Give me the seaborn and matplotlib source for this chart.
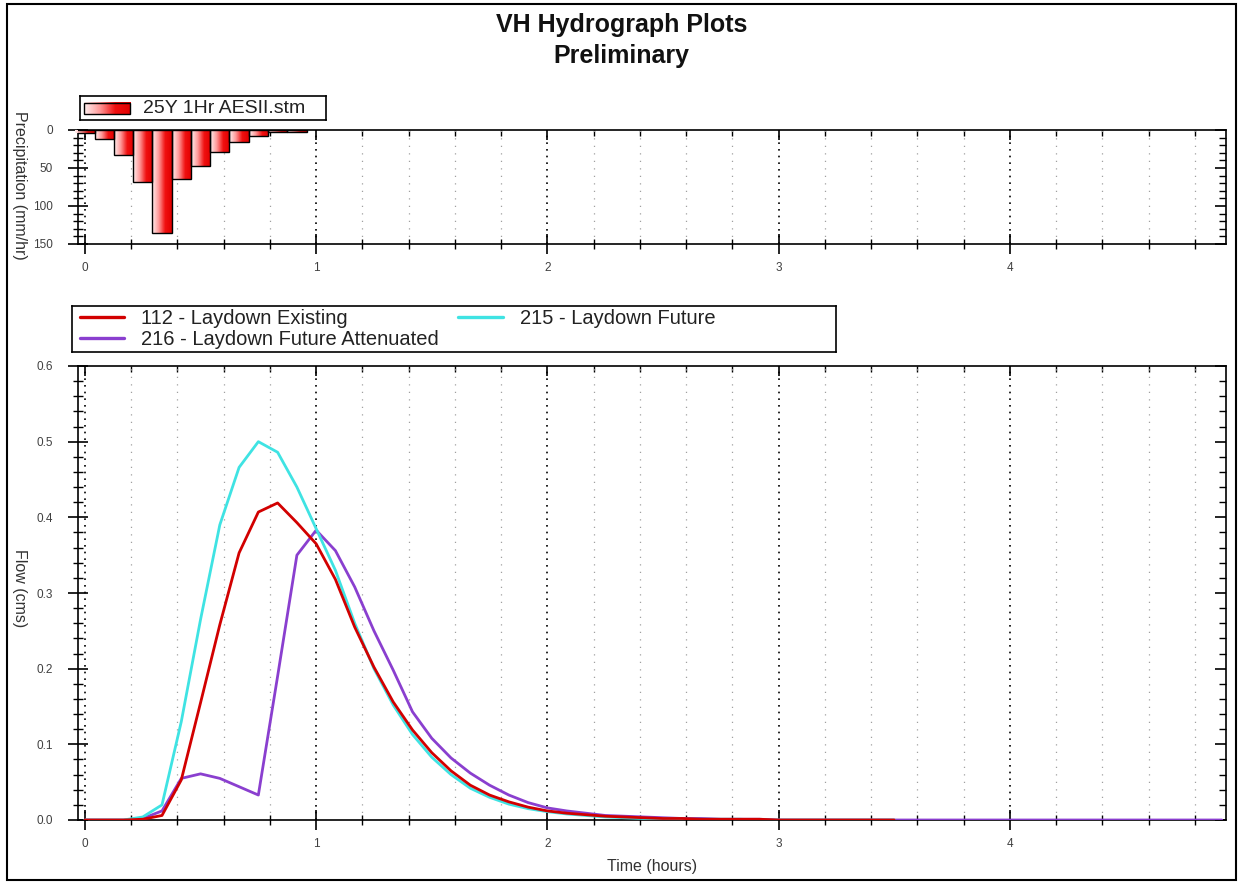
import numpy as np
import matplotlib
matplotlib.use("Agg")
import matplotlib.pyplot as plt
import seaborn as sns
from matplotlib.colors import LinearSegmentedColormap
from matplotlib.patches import Rectangle
from matplotlib.lines import Line2D
from matplotlib.ticker import MultipleLocator, NullFormatter

sns.set_theme(style="white")
plt.rcParams['font.family'] = ['Liberation Sans', 'DejaVu Sans']

# ---------------- data ----------------
# rainfall hyetograph (5-minute blocks, hours)
rain_time = [0.0, 0.0833, 0.1667, 0.25, 0.3333, 0.4167, 0.5, 0.5833, 0.6667, 0.75, 0.8333, 0.9167]
rain_mmhr = [3.5, 12, 33, 68, 135, 64, 47, 29, 16, 8, 3, 3]
rain_label = "25Y 1Hr AESII.stm"

# hydrograph time steps (hours)
time_long = [0.0, 0.0833, 0.1667, 0.25, 0.3333, 0.4167, 0.5, 0.5833, 0.6667, 0.75,
             0.8333, 0.9167, 1.0, 1.0833, 1.1667, 1.25, 1.3333, 1.4167, 1.5, 1.5833,
             1.6667, 1.75, 1.8333, 1.9167, 2.0, 2.0833, 2.1667, 2.25, 2.3333, 2.4167,
             2.5, 2.5833, 2.6667, 2.75, 2.8333, 2.9167, 3.0, 3.0833, 3.1667, 3.25,
             3.3333, 3.4167, 3.5, 3.5833, 3.6667, 3.75, 3.8333, 3.9167, 4.0, 4.0833,
             4.1667, 4.25, 4.3333, 4.4167, 4.5, 4.5833, 4.6667, 4.75, 4.8333, 4.9167]
time_short = time_long[:43]

flow_112 = [0.0, 0.0, 0.0, 0.001, 0.006, 0.053, 0.155, 0.258, 0.353, 0.407,
            0.419, 0.393, 0.365, 0.318, 0.255, 0.202, 0.156, 0.119, 0.089, 0.065,
            0.046, 0.033, 0.024, 0.017, 0.012, 0.009, 0.007, 0.005, 0.004, 0.003,
            0.002, 0.002, 0.001, 0.001, 0.001, 0.001, 0.0, 0.0, 0.0, 0.0,
            0.0, 0.0, 0.0]
flow_215 = [0.0, 0.0, 0.0, 0.004, 0.02, 0.13, 0.265, 0.39, 0.466, 0.5,
            0.486, 0.44, 0.385, 0.33, 0.26, 0.2, 0.152, 0.113, 0.083, 0.06,
            0.042, 0.03, 0.021, 0.015, 0.011, 0.008, 0.006, 0.004, 0.003, 0.002,
            0.002, 0.001, 0.001, 0.001, 0.001, 0.0, 0.0, 0.0, 0.0, 0.0,
            0.0, 0.0, 0.0]
flow_216 = [0.0, 0.0, 0.0, 0.002, 0.012, 0.055, 0.061, 0.055, 0.044, 0.033,
            0.19, 0.35, 0.383, 0.356, 0.308, 0.25, 0.198, 0.143, 0.108, 0.082,
            0.062, 0.046, 0.033, 0.023, 0.016, 0.012, 0.009, 0.006, 0.005, 0.004,
            0.003, 0.002, 0.002, 0.001, 0.001, 0.001, 0.0, 0.0, 0.0, 0.0,
            0.0, 0.0, 0.0, 0.0, 0.0, 0.0, 0.0, 0.0, 0.0, 0.0,
            0.0, 0.0, 0.0, 0.0, 0.0, 0.0, 0.0, 0.0, 0.0, 0.0]

labels = ["112 - Laydown Existing", "215 - Laydown Future", "216 - Laydown Future Attenuated"]
colors = ["#d20000", "#3fe3e3", "#8a3fcf"]

# ---------------- figure ----------------
W, H = 1238, 884
fig = plt.figure(figsize=(W / 100, H / 100), dpi=100)
fig.patch.set_facecolor("white")

def fx(px):
    return px / W

def fy(py):
    return 1 - py / H

# outer border
fig.patches.append(Rectangle((fx(7), fy(880)), fx(1236) - fx(7), fy(4) - fy(880),
                             transform=fig.transFigure, fill=False, edgecolor="black",
                             linewidth=1.5, zorder=0))

fig.text(0.502, fy(32), "VH Hydrograph Plots", ha="center", va="baseline",
         fontsize=18, fontweight="bold", color="#111111")
fig.text(0.502, fy(63), "Preliminary", ha="center", va="baseline",
         fontsize=18, fontweight="bold", color="#111111")

left, right = 78, 1226
ax_top = fig.add_axes([fx(left), fy(244), fx(right) - fx(left), fy(130) - fy(244)])
ax_bot = fig.add_axes([fx(left), fy(820), fx(right) - fx(left), fy(366) - fy(820)])

XMIN, XMAX = -0.03, 4.935
TICK_COLOR = "#404040"

def style_axis(ax, ymajor, yminor):
    ax.set_facecolor("white")
    for s in ax.spines.values():
        s.set_visible(True)
        s.set_color("black")
        s.set_linewidth(1.2)
    ax.xaxis.set_major_locator(MultipleLocator(1))
    ax.xaxis.set_minor_locator(MultipleLocator(0.2))
    ax.yaxis.set_major_locator(MultipleLocator(ymajor))
    ax.yaxis.set_minor_locator(MultipleLocator(yminor))
    ax.tick_params(which="major", direction="inout", length=14, width=1.2, color="black",
                   top=False, right=False, bottom=True, left=True,
                   labelsize=8.5, labelcolor=TICK_COLOR)
    ax.tick_params(which="minor", direction="inout", length=7, width=1.0, color="black",
                   top=False, right=False, bottom=True, left=True)
    ax.tick_params(axis="y", which="major", pad=11)
    ax.tick_params(axis="x", which="major", pad=6)
    ax.grid(False)
    ax.xaxis.grid(True, which="major", color="black", linestyle=(0, (1, 3)), linewidth=1.2)
    ax.xaxis.grid(True, which="minor", color="#a0a0a0", linestyle=(0, (1, 5)), linewidth=0.9)
    ax.set_axisbelow(True)
    # inward ticks on top and right
    sx = ax.secondary_xaxis("top")
    sx.xaxis.set_major_locator(MultipleLocator(1))
    sx.xaxis.set_minor_locator(MultipleLocator(0.2))
    sx.tick_params(which="major", direction="in", length=7, width=1.2, color="black", labeltop=False)
    sx.tick_params(which="minor", direction="in", length=4, width=1.0, color="black")
    sx.xaxis.set_major_formatter(NullFormatter())
    sx.spines["top"].set_visible(False)
    sy = ax.secondary_yaxis("right")
    sy.yaxis.set_major_locator(MultipleLocator(ymajor))
    sy.yaxis.set_minor_locator(MultipleLocator(yminor))
    sy.tick_params(which="major", direction="in", length=8, width=1.2, color="black", labelright=False)
    sy.tick_params(which="minor", direction="in", length=5, width=1.0, color="black")
    sy.yaxis.set_major_formatter(NullFormatter())
    sy.spines["right"].set_visible(False)

# ---------------- precipitation panel ----------------
sns.barplot(x=rain_time, y=rain_mmhr, native_scale=True, width=1.0,
            color="#ff6060", edgecolor="black", linewidth=1.0, ax=ax_top, zorder=3)
cmap = LinearSegmentedColormap.from_list("pinkred", ["#fff0f0", "#ff9a9a", "#f01010", "#e00000"])
grad = np.linspace(0, 1, 64).reshape(1, -1)
for patch in list(ax_top.patches):
    x0, y0 = patch.get_x(), patch.get_y()
    w, h = patch.get_width(), patch.get_height()
    im = ax_top.imshow(grad, extent=[x0, x0 + w, y0, y0 + h], aspect="auto",
                       cmap=cmap, zorder=2.9, interpolation="bilinear")
    im.set_clip_path(patch)
    patch.set_facecolor("none")
ax_top.set_xlim(XMIN, XMAX)
ax_top.set_ylim(150, 0)
style_axis(ax_top, 50, 10)
ax_top.set_xticks([0, 1, 2, 3, 4])
ax_top.set_xticklabels(["0", "1", "2", "3", "4"])
ax_top.set_xlabel("")
ax_top.set_ylabel("")
fig.text(fx(19), fy(185), "Precipitation (mm/hr)", rotation=-90, ha="center", va="center",
         fontsize=11.5, color="#333333")

# top legend box
lax1 = fig.add_axes([fx(80), fy(120), fx(326) - fx(80), fy(96) - fy(120)])
lax1.set_xticks([])
lax1.set_yticks([])
for s in lax1.spines.values():
    s.set_visible(True)
    s.set_color("black")
    s.set_linewidth(1.2)
lax1.imshow(grad, extent=[0.015, 0.205, 0.25, 0.72], aspect="auto", cmap=cmap, zorder=2)
lax1.add_patch(Rectangle((0.015, 0.25), 0.19, 0.47, fill=False, edgecolor="black", linewidth=1, zorder=3))
lax1.set_xlim(0, 1)
lax1.set_ylim(0, 1)
lax1.text(0.255, 0.47, rain_label, ha="left", va="center", fontsize=14, color="#222222")

# ---------------- flow panel ----------------
sns.lineplot(x=time_long, y=flow_216, color=colors[2], linewidth=2.0, ax=ax_bot, zorder=3)
sns.lineplot(x=time_short, y=flow_215, color=colors[1], linewidth=2.0, ax=ax_bot, zorder=4)
sns.lineplot(x=time_short, y=flow_112, color=colors[0], linewidth=2.0, ax=ax_bot, zorder=5)
ax_bot.set_xlim(XMIN, XMAX)
ax_bot.set_ylim(0, 0.6)
style_axis(ax_bot, 0.1, 0.02)
ax_bot.set_yticks([0, 0.1, 0.2, 0.3, 0.4, 0.5, 0.6])
ax_bot.set_yticklabels(["0.0", "0.1", "0.2", "0.3", "0.4", "0.5", "0.6"])
ax_bot.set_xticks([0, 1, 2, 3, 4])
ax_bot.set_xticklabels(["0", "1", "2", "3", "4"])
ax_bot.set_xlabel("")
ax_bot.set_ylabel("")
fig.text(fx(19), fy(588), "Flow (cms)", rotation=-90, ha="center", va="center",
         fontsize=11.5, color="#333333")
fig.text(fx(652), fy(867), "Time (hours)", ha="center", va="center",
         fontsize=11.5, color="#333333")

# lower legend box
lax2 = fig.add_axes([fx(72), fy(352), fx(836) - fx(72), fy(306) - fy(352)])
lax2.set_xticks([])
lax2.set_yticks([])
lax2.set_facecolor("white")
for s in lax2.spines.values():
    s.set_visible(True)
    s.set_color("black")
    s.set_linewidth(1.2)
handles = [Line2D([], [], color=colors[0], linewidth=2.4),
           Line2D([], [], color=colors[2], linewidth=2.4),
           Line2D([], [], color=colors[1], linewidth=2.4)]
leg_labels = [labels[0], labels[2], labels[1]]
lax2.legend(handles, leg_labels, ncol=2, loc="center left", bbox_to_anchor=(0.0, 0.5),
            frameon=False, fontsize=14.5, handlelength=2.2, handletextpad=0.85,
            columnspacing=0.95, labelspacing=0.08, borderpad=0.0, borderaxespad=0.4,
            labelcolor="#222222")

fig.savefig("out.png", dpi=100, facecolor="white")
